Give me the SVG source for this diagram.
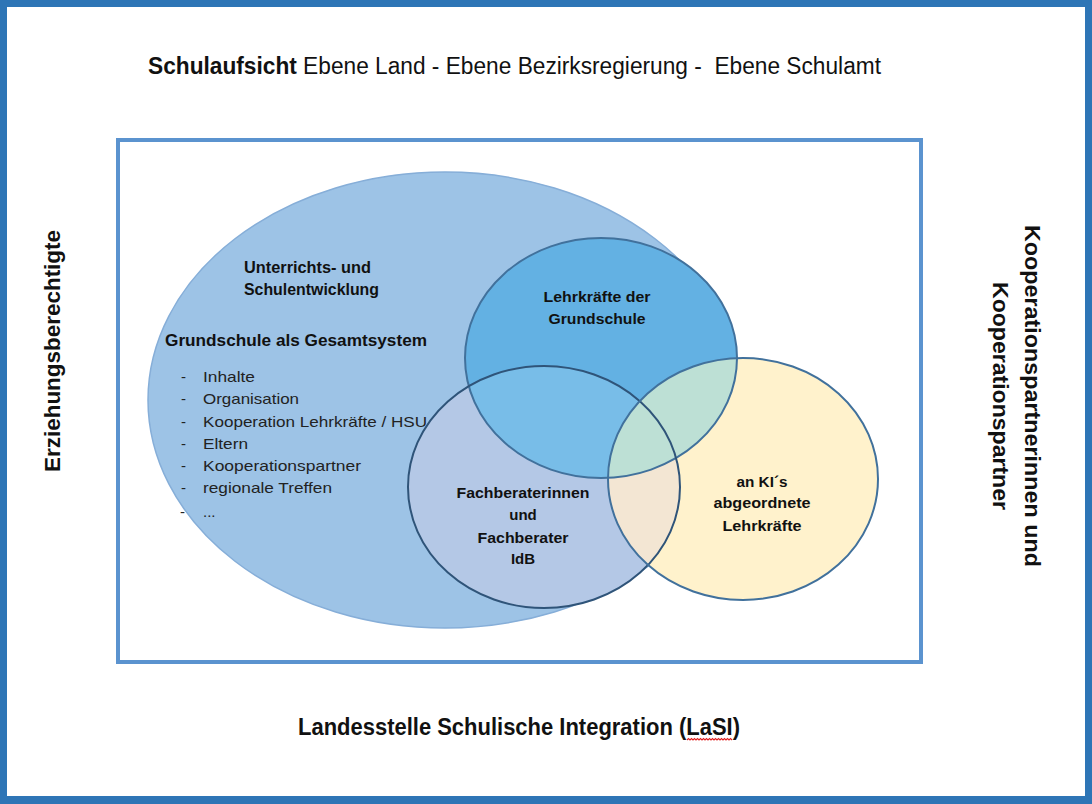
<svg xmlns="http://www.w3.org/2000/svg" width="1092" height="804" viewBox="0 0 1092 804">
<style>
text{font-family:"Liberation Sans",Arial,sans-serif;fill:#111;}
.b{font-weight:bold;}
.lbl{font-size:23px;}
.in{font-size:15px;}
.list{font-size:15px;fill:#222;}
.ctr{text-anchor:middle;}
.ol{fill:none;stroke-width:2;}
</style>
<defs>
<ellipse id="cTop" cx="601" cy="358" rx="136" ry="120"/>
<ellipse id="cFach" cx="544" cy="487" rx="136" ry="121"/>
<ellipse id="cKI" cx="743" cy="479" rx="135" ry="121"/>
<clipPath id="clipTop"><use href="#cTop"/></clipPath>
<clipPath id="clipFach"><use href="#cFach"/></clipPath>
</defs>
<g id="frame">
<rect x="0" y="0" width="1092" height="804" fill="#2E75B6"/>
<rect x="7" y="7" width="1078" height="789" fill="#FFFFFF"/>
<rect x="118" y="140" width="803" height="522" fill="none" stroke="#5B93CF" stroke-width="4"/>
</g>
<g id="title">
<text class="lbl" x="148" y="74" textLength="733" lengthAdjust="spacingAndGlyphs"><tspan class="b">Schulaufsicht</tspan> Ebene Land - Ebene Bezirksregierung -&#160; Ebene Schulamt</text>
</g>
<g id="bottom-label">
<text class="lbl b" x="298" y="735" font-size="22" textLength="442" lengthAdjust="spacingAndGlyphs">Landesstelle Schulische Integration (LaSI)</text>
<path d="M687,740 l1.5,-1.5 l1.5,1.5 l1.5,-1.5 l1.5,1.5 l1.5,-1.5 l1.5,1.5 l1.5,-1.5 l1.5,1.5 l1.5,-1.5 l1.5,1.5 l1.5,-1.5 l1.5,1.5 l1.5,-1.5 l1.5,1.5 l1.5,-1.5 l1.5,1.5 l1.5,-1.5 l1.5,1.5 l1.5,-1.5 l1.5,1.5 l1.5,-1.5 l1.5,1.5 l1.5,-1.5 l1.5,1.5 l1.5,-1.5 l1.5,1.5 l1.5,-1.5 l1.5,1.5 l1.5,-1.5 l1.5,1.5" fill="none" stroke="#E02020" stroke-width="1.1"/>
</g>
<g id="left-label">
<text class="b ctr" font-size="22" transform="translate(60,351) rotate(-90)" textLength="242" lengthAdjust="spacingAndGlyphs">Erziehungsberechtigte</text>
</g>
<g id="right-label">
<text class="b ctr" font-size="22" transform="translate(1025,396) rotate(90)" textLength="342" lengthAdjust="spacingAndGlyphs">Kooperationspartnerinnen und</text>
<text class="b ctr" font-size="22" transform="translate(993,396) rotate(90)" textLength="228" lengthAdjust="spacingAndGlyphs">Kooperationspartner</text>
</g>
<g id="connectors"/>
<g id="node-grundschule">
<ellipse cx="445" cy="400" rx="297" ry="228" fill="#9DC3E6" stroke="#86AED8" stroke-width="1.5"/>
<text class="b" font-size="16" x="244" y="273" textLength="127" lengthAdjust="spacingAndGlyphs" fill="#16243A">Unterrichts- und</text>
<text class="b" font-size="16" x="244" y="295" textLength="135" lengthAdjust="spacingAndGlyphs" fill="#16243A">Schulentwicklung</text>
<text class="b" font-size="17" x="165" y="346" textLength="262" lengthAdjust="spacingAndGlyphs" fill="#101828">Grundschule als Gesamtsystem</text>
<g class="list">
<text class="list" x="181" y="382">-</text><text class="list" x="203" y="382" textLength="52" lengthAdjust="spacingAndGlyphs">Inhalte</text>
<text class="list" x="181" y="404">-</text><text class="list" x="203" y="404" textLength="96" lengthAdjust="spacingAndGlyphs">Organisation</text>
<text class="list" x="181" y="427">-</text><text class="list" x="203" y="427" textLength="224" lengthAdjust="spacingAndGlyphs">Kooperation Lehrkräfte / HSU</text>
<text class="list" x="181" y="449">-</text><text class="list" x="203" y="449" textLength="45" lengthAdjust="spacingAndGlyphs">Eltern</text>
<text class="list" x="181" y="471">-</text><text class="list" x="203" y="471" textLength="158" lengthAdjust="spacingAndGlyphs">Kooperationspartner</text>
<text class="list" x="181" y="493">-</text><text class="list" x="203" y="493" textLength="129" lengthAdjust="spacingAndGlyphs">regionale Treffen</text>
<text class="list" x="180" y="517">-</text><text class="list" x="203" y="517">...</text>
</g>
</g>
<g id="fills">
<use href="#cFach" fill="#B4C8E6"/>
<use href="#cTop" fill="#63B1E3"/>
<use href="#cFach" fill="#78BDE8" clip-path="url(#clipTop)"/>
<use href="#cKI" fill="#FFF2CC"/>
<use href="#cKI" fill="#F3E6D3" clip-path="url(#clipFach)"/>
<use href="#cKI" fill="#BDE0D5" clip-path="url(#clipTop)"/>
</g>
<g id="node-lehrkraefte">
<use href="#cTop" class="ol" stroke="#41719C"/>
<text class="in b ctr" x="597" y="302" textLength="107" lengthAdjust="spacingAndGlyphs" fill="#1C3A5E">Lehrkräfte der</text>
<text class="in b ctr" x="597" y="324" textLength="97" lengthAdjust="spacingAndGlyphs" fill="#1C3A5E">Grundschule</text>
</g>
<g id="node-fachberater">
<use href="#cFach" class="ol" stroke="#2F5479"/>
<text class="in b ctr" x="523" y="498" textLength="133" lengthAdjust="spacingAndGlyphs">Fachberaterinnen</text>
<text class="in b ctr" x="523" y="520">und</text>
<text class="in b ctr" x="523" y="543" textLength="91" lengthAdjust="spacingAndGlyphs">Fachberater</text>
<text class="in b ctr" x="523" y="564">IdB</text>
</g>
<g id="node-ki">
<use href="#cKI" class="ol" stroke="#41719C"/>
<text class="in b ctr" x="762" y="487" textLength="51" lengthAdjust="spacingAndGlyphs">an KI´s</text>
<text class="in b ctr" x="762" y="508" textLength="97" lengthAdjust="spacingAndGlyphs">abgeordnete</text>
<text class="in b ctr" x="762" y="531" textLength="79" lengthAdjust="spacingAndGlyphs">Lehrkräfte</text>
</g>
</svg>
